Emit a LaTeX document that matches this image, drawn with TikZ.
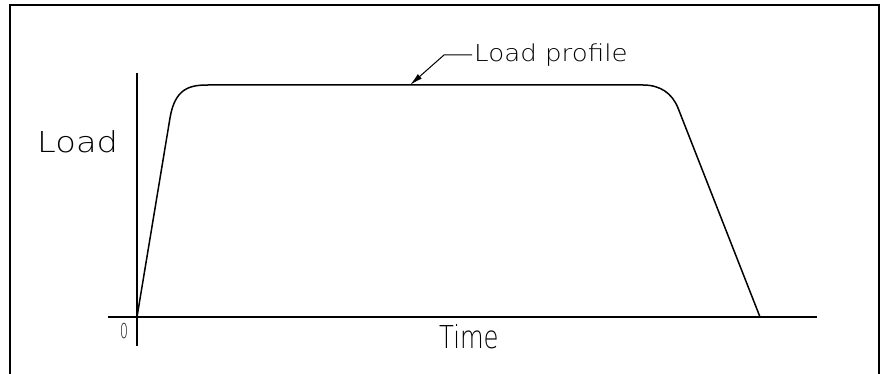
\documentclass[tikz,border=0pt]{standalone}
\usepackage{fontspec}
\setmainfont{DejaVu Sans ExtraLight}
\usetikzlibrary{arrows.meta}
\tikzset{
  frame/.style={line width=2pt},
  axis/.style={line width=1.1pt},
  curve/.style={line width=1.5pt, line join=round},
  lbl/.style={inner sep=0pt, anchor=base west},
  leader/.style={line width=1pt, -{Latex[length=13pt,width=6pt]}}
}
\begin{document}
\begin{tikzpicture}[x=1pt,y=-1pt]
\useasboundingbox (0,0) rectangle (883,374);
% frame (bottom edge is below the picture)
\draw[frame] (10,380) -- (10,5) -- (879,5) -- (879,380);
% axes
\coordinate (o) at (137,317);
\coordinate (ytop) at (137,73);
\coordinate (ybot) at (137,346);
\coordinate (xl) at (108,317);
\coordinate (xr) at (817,317);
\draw[axis] (ytop) -- (ybot);
\draw[axis] (xl) -- (xr);
% load profile
\coordinate (p1) at (170,118);
\coordinate (p2) at (208,85);
\coordinate (p3) at (643,85);
\coordinate (p4) at (678,108);
\coordinate (p5) at (760,317);
\draw[curve] (o) -- (p1) .. controls (175,88) and (190,85) .. (p2) -- (p3)
  .. controls (660,85) and (672,93) .. (p4) -- (p5);
% labels
\node[lbl] (load) at (37,153) {\fontsize{28.8}{30}\selectfont\scalebox{1.17}[1]{Load}};
\node[lbl] (time) at (439,348) {\fontsize{31.5}{33}\selectfont\scalebox{0.77}[1]{Time}};
\node[lbl] (zero) at (120,338) {\fontsize{20.5}{22}\selectfont\scalebox{0.6}[1]{0}};
\node[lbl] (lp) at (474,62) {\fontsize{23.3}{25}\selectfont\scalebox{1.12}[1]{Load profile}};
% leader
\coordinate (lstart) at (472,55);
\coordinate (bend) at (444,55);
\coordinate (tip) at (410,85);
\draw[leader] (lstart) -- (bend) -- (tip);
\end{tikzpicture}
\end{document}
